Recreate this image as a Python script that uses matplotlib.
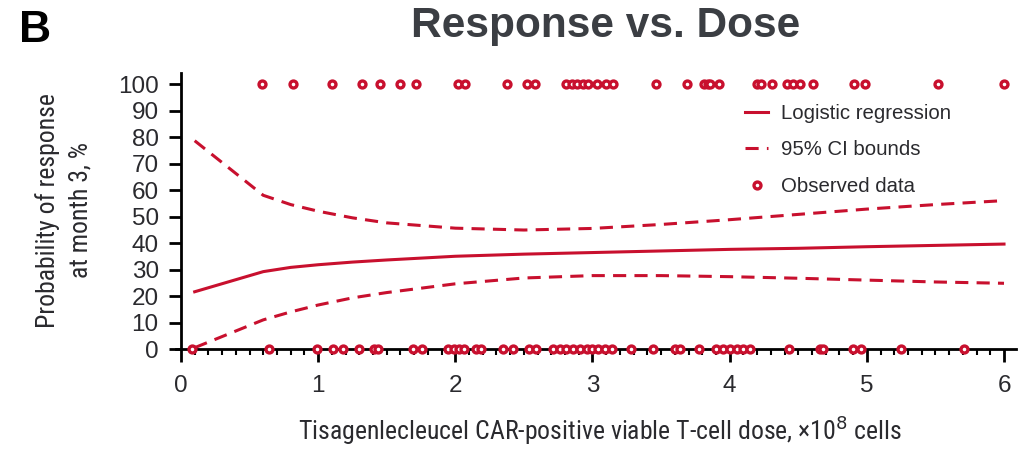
import numpy as np
import matplotlib
matplotlib.use("Agg")
import matplotlib.pyplot as plt
from matplotlib import font_manager
from matplotlib.ticker import MultipleLocator

RED = "#c8102e"
INK = "#2a2a2e"

# fitted response curve and its 95% CI, on the dose grid (x10^8 cells)
dose_grid = [0.1, 0.6, 0.8, 1.0, 1.25, 1.5, 2.0, 2.5, 3.0, 3.5, 4.0, 4.5, 5.0, 5.5, 6.0]
fit_pct = [21.6, 29.2, 30.8, 31.8, 32.8, 33.6, 35.0, 35.8, 36.4, 37.0, 37.6, 38.0, 38.6, 39.1, 39.6]
ci_upper = [78.6, 58.0, 54.5, 52.0, 49.5, 47.6, 45.6, 44.9, 45.5, 47.0, 48.8, 50.8, 52.8, 54.5, 56.0]
ci_lower = [0.5, 11.0, 14.0, 16.6, 19.3, 21.3, 24.6, 26.8, 27.7, 27.7, 27.3, 26.7, 26.0, 25.3, 24.8]

# observed patients: responders plotted at 100, non-responders at 0
responders = [0.59, 0.82, 1.10, 1.32, 1.45, 1.60, 1.71, 2.02, 2.07, 2.38, 2.52, 2.58,
              2.81, 2.85, 2.89, 2.93, 2.97, 3.03, 3.10, 3.15, 3.46, 3.69, 3.81, 3.84,
              3.86, 3.92, 4.20, 4.23, 4.31, 4.42, 4.46, 4.51, 4.61, 4.91, 4.99, 5.52, 6.00]
nonresponders = [0.08, 0.64, 0.99, 1.11, 1.18, 1.30, 1.41, 1.44, 1.69, 1.76, 1.95, 1.99,
                 2.03, 2.06, 2.15, 2.19, 2.35, 2.42, 2.54, 2.59, 2.71, 2.76, 2.81, 2.86,
                 2.91, 2.96, 3.00, 3.04, 3.09, 3.14, 3.28, 3.44, 3.60, 3.64, 3.78, 3.90,
                 3.95, 4.00, 4.05, 4.10, 4.15, 4.43, 4.66, 4.68, 4.90, 4.96, 5.25, 5.71]

x_ticks = [0, 1, 2, 3, 4, 5, 6]
y_ticks = [0, 10, 20, 30, 40, 50, 60, 70, 80, 90, 100]

# narrow face for the axis titles if one is installed
installed = {f.name for f in font_manager.fontManager.ttflist}
narrow = [f for f in ["Liberation Sans Narrow", "Roboto Condensed"] if f in installed]
if narrow:
    label_font, label_size = narrow[0], 18.5
else:
    label_font, label_size = "Liberation Sans", 16

plt.rcParams["font.family"] = ["Liberation Sans", "DejaVu Sans"]

fig = plt.figure(figsize=(10.26, 4.49), dpi=100)
ax = fig.add_axes([0.1717, 0.2227, 0.8189, 0.6138])

ax.plot(dose_grid, fit_pct, color=RED, lw=2.2, label="Logistic regression")
ax.plot(dose_grid, ci_upper, color=RED, lw=2.2, dashes=(4.3, 2.7), label="95% CI bounds")
ax.plot(dose_grid, ci_lower, color=RED, lw=2.2, dashes=(4.3, 2.7))
ax.plot(responders, np.full(len(responders), 100), "o", ms=5, mfc="white", mec=RED,
        mew=2.4, clip_on=False, zorder=5, label="Observed data")
ax.plot(nonresponders, np.zeros(len(nonresponders)), "o", ms=5, mfc="white", mec=RED,
        mew=2.4, clip_on=False, zorder=5)

ax.set_xlim(-0.035, 6.09)
ax.set_ylim(0, 104)
ax.spines["left"].set_position(("data", 0))
for s in ["top", "right"]:
    ax.spines[s].set_visible(False)
for s in ["left", "bottom"]:
    ax.spines[s].set_linewidth(2)

ax.set_xticks(x_ticks)
ax.set_yticks(y_ticks)
ax.xaxis.set_minor_locator(MultipleLocator(0.1))
ax.tick_params(axis="both", which="major", length=9, width=2, direction="out",
               labelsize=17.5, labelcolor=INK)
ax.tick_params(axis="y", pad=7)
ax.tick_params(axis="x", pad=10)
ax.tick_params(axis="x", which="minor", length=4.5, width=1.5, direction="out")

ax.set_xlabel("Tisagenlecleucel CAR-positive viable T-cell dose, ×10$^8$ cells",
              fontfamily=label_font, fontsize=label_size, color=INK)
ax.xaxis.set_label_coords(0.504, -0.235)
ax.set_ylabel("Probability of response\nat month 3, %", fontfamily=label_font,
              fontsize=label_size, color=INK, linespacing=1.45)
ax.yaxis.set_label_coords(-0.099, 0.504)

leg = ax.legend(loc="upper left", bbox_to_anchor=(745 / 1026, 1 - 104 / 449),
                bbox_transform=fig.transFigure, frameon=False, fontsize=14.7,
                handlelength=1.15, handletextpad=0.6, labelspacing=0.85,
                borderpad=0, borderaxespad=0, numpoints=1)
for t in leg.get_texts():
    t.set_color(INK)

fig.text(606 / 1026, 1 - 37.5 / 449, "Response vs. Dose", ha="center", va="baseline",
         fontsize=30.5, fontweight="bold", color="#3b3e43")
fig.text(19 / 1026, 1 - 41.5 / 449, "B", ha="left", va="baseline",
         fontsize=32, fontweight="bold", color="black")

fig.savefig("out.png", dpi=100)
